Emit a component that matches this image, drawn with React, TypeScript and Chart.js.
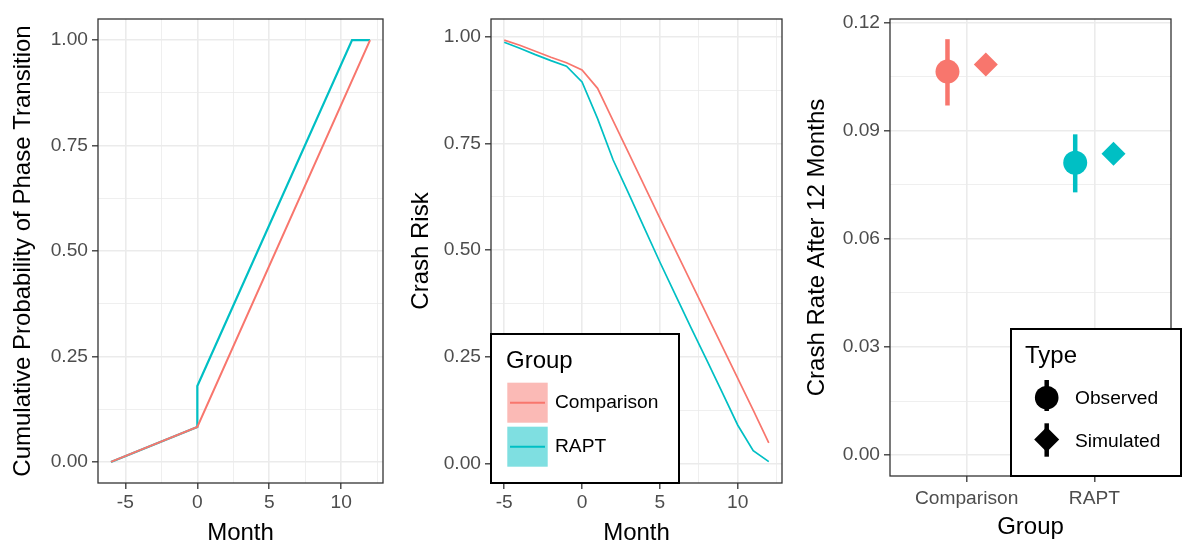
import React, { useEffect, useRef } from 'react';
import { Chart, registerables } from 'chart.js';

Chart.register(...registerables);

const RED = '#F8766D';
const TEAL = '#00BFC4';
const RED_FILL = 'rgba(248,118,109,0.5)';
const TEAL_FILL = 'rgba(0,191,196,0.5)';
const FONT = '"Liberation Sans", Arial, Helvetica, sans-serif';

// ---------- Panel 1: cumulative probability of phase transition ----------
const p1CompMonths = [-6, 0, 12];
const p1CompProb = [0, 0.083, 1.0];
const p1RaptMonths = [-6, 0, 0, 10.75, 12];
const p1RaptProb = [0, 0.083, 0.18, 1.0, 1.0];

// ---------- Panel 2: crash risk by month ----------
const p2Months = [-5, -4, -3, -2, -1, 0, 1, 2, 3, 4, 5, 6, 7, 8, 9, 10, 11, 12];
const p2Comparison = [0.992, 0.98, 0.966, 0.952, 0.939, 0.922, 0.879, 0.803, 0.727, 0.651, 0.575, 0.5, 0.425, 0.35, 0.275, 0.2, 0.125, 0.048];
const p2Rapt = [0.987, 0.973, 0.958, 0.944, 0.931, 0.894, 0.808, 0.711, 0.632, 0.552, 0.472, 0.395, 0.318, 0.243, 0.167, 0.09, 0.03, 0.004];

// ---------- Panel 3: crash rate after 12 months ----------
const p3Groups = ['Comparison', 'RAPT'];
const p3Observed = [0.1064, 0.0811];
const p3ObsLow = [0.097, 0.0729];
const p3ObsHigh = [0.1154, 0.089];
const p3Simulated = [0.1084, 0.0836];
const p3Types = ['Observed', 'Simulated'];
const groupNames = ['Comparison', 'RAPT'];

// ---------- tick definitions ----------
const monthMajor = [-5, 0, 5, 10];
const monthMinor = [-2.5, 2.5, 7.5, 12.5];
const probMajor = [0, 0.25, 0.5, 0.75, 1];
const probMinor = [0.125, 0.375, 0.625, 0.875];
const rateMajor = [0, 0.03, 0.06, 0.09, 0.12];
const rateMinor = [0.015, 0.045, 0.075, 0.105];
const groupTicks = [1, 2];

const DODGE = 0.15;

const near = (a: number, b: number) => Math.abs(a - b) < 1e-9;

function axis(o: any) {
  const all = [...o.major, ...o.minor].sort((a: number, b: number) => a - b);
  const isMajor = (v: number) => o.major.some((m: number) => near(m, v));
  return {
    type: 'linear',
    min: o.min,
    max: o.max,
    bounds: 'data',
    afterBuildTicks: (s: any) => {
      s.ticks = all.map((v: number) => ({ value: v }));
    },
    afterFit: (s: any) => {
      if (o.axis === 'y') s.width = o.size;
      else s.height = o.size;
    },
    grid: {
      color: '#EBEBEB',
      lineWidth: (c: any) => (c.tick && isMajor(c.tick.value) ? 1.6 : 0.8),
      tickColor: (c: any) => (c.tick && isMajor(c.tick.value) ? '#333333' : 'rgba(0,0,0,0)'),
      tickWidth: 1.3,
      tickLength: 6,
      drawTicks: true,
      drawOnChartArea: true,
    },
    border: { display: false },
    ticks: {
      autoSkip: false,
      maxRotation: 0,
      minRotation: 0,
      padding: o.tickPad,
      color: '#4D4D4D',
      font: { family: FONT, size: 19.2 },
      callback: (v: number) => (isMajor(v) ? o.fmt(v) : ''),
    },
    title: {
      display: true,
      text: o.title,
      color: '#000000',
      font: { family: FONT, size: 24 },
      padding: o.titlePad,
    },
  };
}

const borderPlugin = {
  id: 'panelBorder',
  afterDatasetsDraw(chart: any) {
    const { ctx, chartArea: a } = chart;
    ctx.save();
    ctx.strokeStyle = '#333333';
    ctx.lineWidth = 1.3;
    ctx.strokeRect(a.left, a.top, a.right - a.left, a.bottom - a.top);
    ctx.restore();
  },
};

function baseOptions(padRight: number, scales: any) {
  return {
    responsive: false,
    animation: false,
    events: [],
    layout: { padding: { top: 19, right: padRight, bottom: 0, left: 0 } },
    plugins: { legend: { display: false }, tooltip: { enabled: false }, title: { display: false } },
    scales,
  };
}

function makePanel1() {
  return {
    type: 'line',
    data: {
      datasets: [
        {
          label: groupNames[0],
          data: p1CompMonths.map((m, i) => ({ x: m, y: p1CompProb[i] })),
          borderColor: RED,
          borderWidth: 2,
          pointRadius: 0,
          tension: 0,
        },
        {
          label: groupNames[1],
          data: p1RaptMonths.map((m, i) => ({ x: m, y: p1RaptProb[i] })),
          borderColor: TEAL,
          borderWidth: 2.2,
          pointRadius: 0,
          tension: 0,
        },
      ],
    },
    options: baseOptions(12, {
      x: axis({ axis: 'x', min: -6.9, max: 12.9, major: monthMajor, minor: monthMinor, fmt: (v: number) => String(v), title: 'Month', titlePad: { top: 0, bottom: -5.4 }, tickPad: 2.5, size: 59 }),
      y: axis({ axis: 'y', min: -0.05, max: 1.05, major: probMajor, minor: probMinor, fmt: (v: number) => v.toFixed(2), title: 'Cumulative Probability of Phase Transition', titlePad: { top: 8.6, bottom: 0 }, tickPad: 4, size: 98 }),
    }),
    plugins: [borderPlugin],
  };
}

const groupLegendPlugin = {
  id: 'groupLegend',
  afterDraw(chart: any) {
    const ctx = chart.ctx;
    ctx.save();
    ctx.fillStyle = '#FFFFFF';
    ctx.fillRect(96, 334, 188, 149);
    ctx.strokeStyle = '#000000';
    ctx.lineWidth = 2;
    ctx.strokeRect(96, 334, 188, 149);
    ctx.fillStyle = '#000000';
    ctx.textBaseline = 'middle';
    ctx.textAlign = 'left';
    ctx.font = `24px ${FONT}`;
    ctx.fillText('Group', 111, 361);
    const fills = [RED_FILL, TEAL_FILL];
    const strokes = [RED, TEAL];
    groupNames.forEach((name, i) => {
      const top = 382.7 + i * 44;
      ctx.fillStyle = fills[i];
      ctx.fillRect(112.3, top, 40.4, 40);
      ctx.strokeStyle = strokes[i];
      ctx.lineWidth = 2;
      ctx.beginPath();
      ctx.moveTo(115, top + 20);
      ctx.lineTo(150, top + 20);
      ctx.stroke();
      ctx.fillStyle = '#000000';
      ctx.font = `19.2px ${FONT}`;
      ctx.fillText(name, 160, top + 20.5);
    });
    ctx.restore();
  },
};

function makePanel2() {
  return {
    type: 'line',
    data: {
      datasets: [
        {
          label: groupNames[0],
          data: p2Months.map((m, i) => ({ x: m, y: p2Comparison[i] })),
          borderColor: RED,
          borderWidth: 1.7,
          pointRadius: 0,
          tension: 0,
        },
        {
          label: groupNames[1],
          data: p2Months.map((m, i) => ({ x: m, y: p2Rapt[i] })),
          borderColor: TEAL,
          borderWidth: 1.7,
          pointRadius: 0,
          tension: 0,
        },
      ],
    },
    options: baseOptions(13, {
      x: axis({ axis: 'x', min: -5.85, max: 12.85, major: monthMajor, minor: monthMinor, fmt: (v: number) => String(v), title: 'Month', titlePad: { top: 0, bottom: -5.4 }, tickPad: 2.5, size: 59 }),
      y: axis({ axis: 'y', min: -0.046, max: 1.0415, major: probMajor, minor: probMinor, fmt: (v: number) => v.toFixed(2), title: 'Crash Risk', titlePad: { top: 11.6, bottom: 0 }, tickPad: 4, size: 96 }),
    }),
    plugins: [borderPlugin, groupLegendPlugin],
  };
}

const errorBarPlugin = {
  id: 'errorBars',
  beforeDatasetsDraw(chart: any) {
    const { ctx } = chart;
    const xs = chart.scales.x;
    const ys = chart.scales.y;
    const colors = [RED, TEAL];
    ctx.save();
    ctx.lineWidth = 4.5;
    ctx.lineCap = 'butt';
    p3Groups.forEach((g, i) => {
      const x = xs.getPixelForValue(i + 1 - DODGE);
      ctx.strokeStyle = colors[i];
      ctx.beginPath();
      ctx.moveTo(x, ys.getPixelForValue(p3ObsLow[i]));
      ctx.lineTo(x, ys.getPixelForValue(p3ObsHigh[i]));
      ctx.stroke();
    });
    ctx.restore();
  },
};

const typeLegendPlugin = {
  id: 'typeLegend',
  afterDraw(chart: any) {
    const ctx = chart.ctx;
    ctx.save();
    ctx.fillStyle = '#FFFFFF';
    ctx.fillRect(216, 329, 170, 147);
    ctx.strokeStyle = '#000000';
    ctx.lineWidth = 2;
    ctx.strokeRect(216, 329, 170, 147);
    ctx.fillStyle = '#000000';
    ctx.textBaseline = 'middle';
    ctx.textAlign = 'left';
    ctx.font = `24px ${FONT}`;
    ctx.fillText('Type', 230, 356);
    const cx = 251.7;
    ctx.fillStyle = '#000000';
    ctx.strokeStyle = '#000000';
    ctx.lineWidth = 4.5;
    ctx.beginPath();
    ctx.moveTo(cx, 380);
    ctx.lineTo(cx, 411);
    ctx.stroke();
    ctx.beginPath();
    ctx.arc(cx, 397.7, 11.8, 0, Math.PI * 2);
    ctx.fill();
    ctx.beginPath();
    ctx.moveTo(cx, 423.3);
    ctx.lineTo(cx, 456.7);
    ctx.stroke();
    const dy = 439.5;
    const r = 12.5;
    ctx.beginPath();
    ctx.moveTo(cx - r, dy);
    ctx.lineTo(cx, dy - r);
    ctx.lineTo(cx + r, dy);
    ctx.lineTo(cx, dy + r);
    ctx.closePath();
    ctx.fill();
    ctx.font = `19.2px ${FONT}`;
    ctx.fillText(p3Types[0], 280, 398.5);
    ctx.fillText(p3Types[1], 280, 441.7);
    ctx.restore();
  },
};

function makePanel3() {
  return {
    type: 'scatter',
    data: {
      datasets: [
        {
          label: p3Types[0],
          data: p3Groups.map((g, i) => ({ x: i + 1 - DODGE, y: p3Observed[i] })),
          pointStyle: 'circle',
          pointRadius: 12,
          pointBorderWidth: 0,
          borderWidth: 0,
          pointBackgroundColor: [RED, TEAL],
          backgroundColor: [RED, TEAL],
        },
        {
          label: p3Types[1],
          data: p3Groups.map((g, i) => ({ x: i + 1 + DODGE, y: p3Simulated[i] })),
          pointStyle: 'rectRot',
          pointRadius: 12,
          pointBorderWidth: 0,
          borderWidth: 0,
          pointBackgroundColor: [RED, TEAL],
          backgroundColor: [RED, TEAL],
        },
      ],
    },
    options: baseOptions(2, {
      x: axis({ axis: 'x', min: 0.4, max: 2.6, major: groupTicks, minor: [], fmt: (v: number) => p3Groups[Math.round(v) - 1] || '', title: 'Group', titlePad: { top: 0, bottom: 0 }, tickPad: 5, size: 66 }),
      y: axis({ axis: 'y', min: -0.0058, max: 0.121, major: rateMajor, minor: rateMinor, fmt: (v: number) => v.toFixed(2), title: 'Crash Rate After 12 Months', titlePad: { top: 8, bottom: 0 }, tickPad: 4, size: 95 }),
    }),
    plugins: [errorBarPlugin, borderPlugin, typeLegendPlugin],
  };
}

function ChartCanvas({ left, width, makeConfig }: { left: number; width: number; makeConfig: () => any }) {
  const ref = useRef<HTMLCanvasElement | null>(null);
  useEffect(() => {
    if (!ref.current) return;
    const chart = new Chart(ref.current, makeConfig());
    return () => chart.destroy();
  }, []);
  return (
    <canvas
      ref={ref}
      width={width}
      height={542}
      style={{ position: 'absolute', left, top: 0, width, height: 542, display: 'block' }}
    />
  );
}

export default function App() {
  return (
    <div style={{ position: 'absolute', left: 0, top: 0, width: 1183, height: 542, background: '#FFFFFF', overflow: 'hidden' }}>
      <ChartCanvas left={0} width={395} makeConfig={makePanel1} />
      <ChartCanvas left={395} width={400} makeConfig={makePanel2} />
      <ChartCanvas left={795} width={388} makeConfig={makePanel3} />
    </div>
  );
}
